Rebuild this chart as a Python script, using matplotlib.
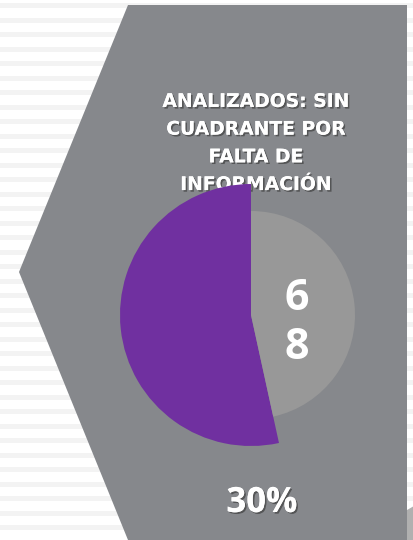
import matplotlib.pyplot as plt
import matplotlib.patheffects as pe
from matplotlib.patches import Polygon

# chart data
slice_names = ["Con cuadrante", "Sin cuadrante"]
slice_values = [78, 68]
slice_colors = ["#7030A0", "#989898"]
title = "ANALIZADOS: SIN\nCUADRANTE POR\nFALTA DE\nINFORMACIÓN"
percent_label = "30%"

W, H = 414, 540
fig = plt.figure(figsize=(W / 100, H / 100), dpi=100)
ax = fig.add_axes([0, 0, 1, 1])

# striped background
fig.patch.set_facecolor("white")
y = 3
while y < H:
    ax.axhspan(H - y - 5, H - y, color="#f3f3f3", lw=0, zorder=0)
    y += 14.5

# grey hexagon-like panel
panel = Polygon(
    [(128, H - 5), (407, H - 5), (407, 0), (128, 0), (19, H - 272)],
    closed=True, facecolor="#86888C", edgecolor="none", zorder=1,
)
ax.add_patch(panel)
# small shadow at lower right
ax.add_patch(Polygon([(407, 30), (414, 34), (414, 0), (407, 0)],
                     closed=True, facecolor="#b0b0b0", edgecolor="none", zorder=1))

shadow = [pe.withSimplePatchShadow(offset=(1.2, -1.2), shadow_rgbFace="#333333", alpha=0.6), pe.Normal()]

ax.text(256, H - 143, title, ha="center", va="center", color="white",
        fontsize=13.5, fontweight="bold", family="DejaVu Sans",
        linespacing=1.58, zorder=2, path_effects=shadow)

# pie: purple slice bigger radius than grey slice
wedges, _ = ax.pie(slice_values, colors=slice_colors, startangle=90,
                   counterclock=True, center=(251, H - 315), radius=131,
                   frame=True, wedgeprops=dict(linewidth=0))
wedges[1].set_radius(104)
for w in wedges:
    w.set_zorder(3)

ax.text(297, H - 323, "\n".join(str(slice_values[1])), ha="center", va="center",
        color="white", fontsize=31, fontweight="bold", family="Open Sans",
        linespacing=1.2, zorder=4)

ax.text(262, H - 503, percent_label, ha="center", va="center", color="white",
        fontsize=25, fontweight="bold", family="Open Sans", zorder=4,
        path_effects=shadow)

ax.set_xlim(0, W)
ax.set_ylim(0, H)
ax.set_aspect("auto")
ax.axis("off")

fig.savefig("out.png", dpi=100)
